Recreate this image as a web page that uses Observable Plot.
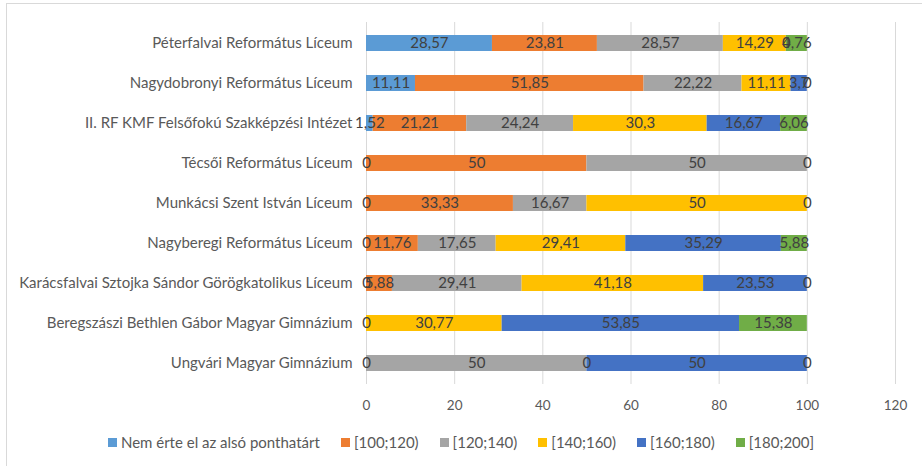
<!DOCTYPE html>
<html>
<head>
<meta charset="utf-8">
<script src="https://cdn.jsdelivr.net/npm/d3@7"></script>
<script src="https://cdn.jsdelivr.net/npm/@observablehq/plot@0.6"></script>
<style>
  body { margin: 0; background: #fff; width: 922px; height: 466px; overflow: hidden; position: relative; font-family: Lato, "Open Sans", sans-serif; }
  #frame { position: absolute; left: 6px; top: 3px; width: 960px; height: 500px; border-left: 1px solid #d9d9d9; border-top: 1px solid #d9d9d9; }
  #chart { position: absolute; left: 0; top: 0; }
  #legend { position: absolute; left: 0; width: 922px; top: 433px; height: 18px; display: flex; justify-content: center; align-items: center; font-size: 15px; color: #595959; }
  .item { display: flex; align-items: center; margin: 0 10.5px; }
  .sw { width: 9px; height: 9px; margin-right: 4px; }
</style>
</head>
<body>
<div id="frame"></div>
<div id="chart"></div>
<div id="legend"></div>
<script>
const schools = [
  "Péterfalvai Református Líceum",
  "Nagydobronyi Református Líceum",
  "II. RF KMF Felsőfokú Szakképzési Intézet",
  "Técsői Református Líceum",
  "Munkácsi Szent István Líceum",
  "Nagyberegi Református Líceum",
  "Karácsfalvai Sztojka Sándor Görögkatolikus Líceum",
  "Beregszászi Bethlen Gábor Magyar Gimnázium",
  "Ungvári Magyar Gimnázium"
];
const series = ["Nem érte el az alsó ponthatárt", "[100;120)", "[120;140)", "[140;160)", "[160;180)", "[180;200]"];
const colors = ["#5B9BD5", "#ED7D31", "#A5A5A5", "#FFC000", "#4472C4", "#70AD47"];

const nem  = [28.57, 11.11, 1.52, 0, 0, 0, 0, 0, 0];
const s100 = [23.81, 51.85, 21.21, 50, 33.33, 11.76, 5.88, null, null];
const s120 = [28.57, 22.22, 24.24, 50, 16.67, 17.65, 29.41, null, 50];
const s140 = [14.29, 11.11, 30.3, 0, 50, 29.41, 41.18, 30.77, 0];
const s160 = [0, 3.7, 16.67, null, 0, 35.29, 23.53, 53.85, 50];
const s180 = [4.76, 0, 6.06, null, null, 5.88, 0, 15.38, 0];
const xTicks = [0, 20, 40, 60, 80, 100, 120];

const seriesValues = [nem, s100, s120, s140, s160, s180];
const data = [];
schools.forEach((school, i) => {
  series.forEach((s, j) => {
    const v = seriesValues[j][i];
    if (v !== null) data.push({school, series: s, value: v});
  });
});
const fmt = v => String(v).replace(".", ",");

const chart = Plot.plot({
  width: 922,
  height: 425,
  marginLeft: 366,
  marginRight: 27,
  marginTop: 22,
  marginBottom: 41,
  style: {fontFamily: "Lato, 'Open Sans', sans-serif", fontSize: "13px", color: "#595959", background: "transparent"},
  x: {domain: [0, 120], ticks: xTicks, label: null},
  y: {domain: schools, label: null, paddingInner: 0.6, paddingOuter: 0.3},
  color: {domain: series, range: colors},
  marks: [
    Plot.gridX(xTicks, {stroke: "#d9d9d9", strokeOpacity: 1}),
    Plot.barX(data, Plot.stackX({x: "value", y: "school", fill: "series", order: null})),
    Plot.text(data, Plot.stackX({x: "value", y: "school", z: "series", order: null, text: d => fmt(d.value), fill: "#404040", fontSize: 15})),
    Plot.axisX({ticks: xTicks, tickSize: 0, tickPadding: 16, label: null, fontSize: 13.5}),
    Plot.axisY({tickSize: 0, tickPadding: 14, label: null, fontSize: 15})
  ]
});
document.getElementById("chart").appendChild(chart);

const legend = document.getElementById("legend");
series.forEach((s, i) => {
  const it = document.createElement("div");
  it.className = "item";
  const sw = document.createElement("span");
  sw.className = "sw";
  sw.style.background = colors[i];
  const t = document.createElement("span");
  t.textContent = s;
  it.appendChild(sw); it.appendChild(t);
  legend.appendChild(it);
});
</script>
</body>
</html>
